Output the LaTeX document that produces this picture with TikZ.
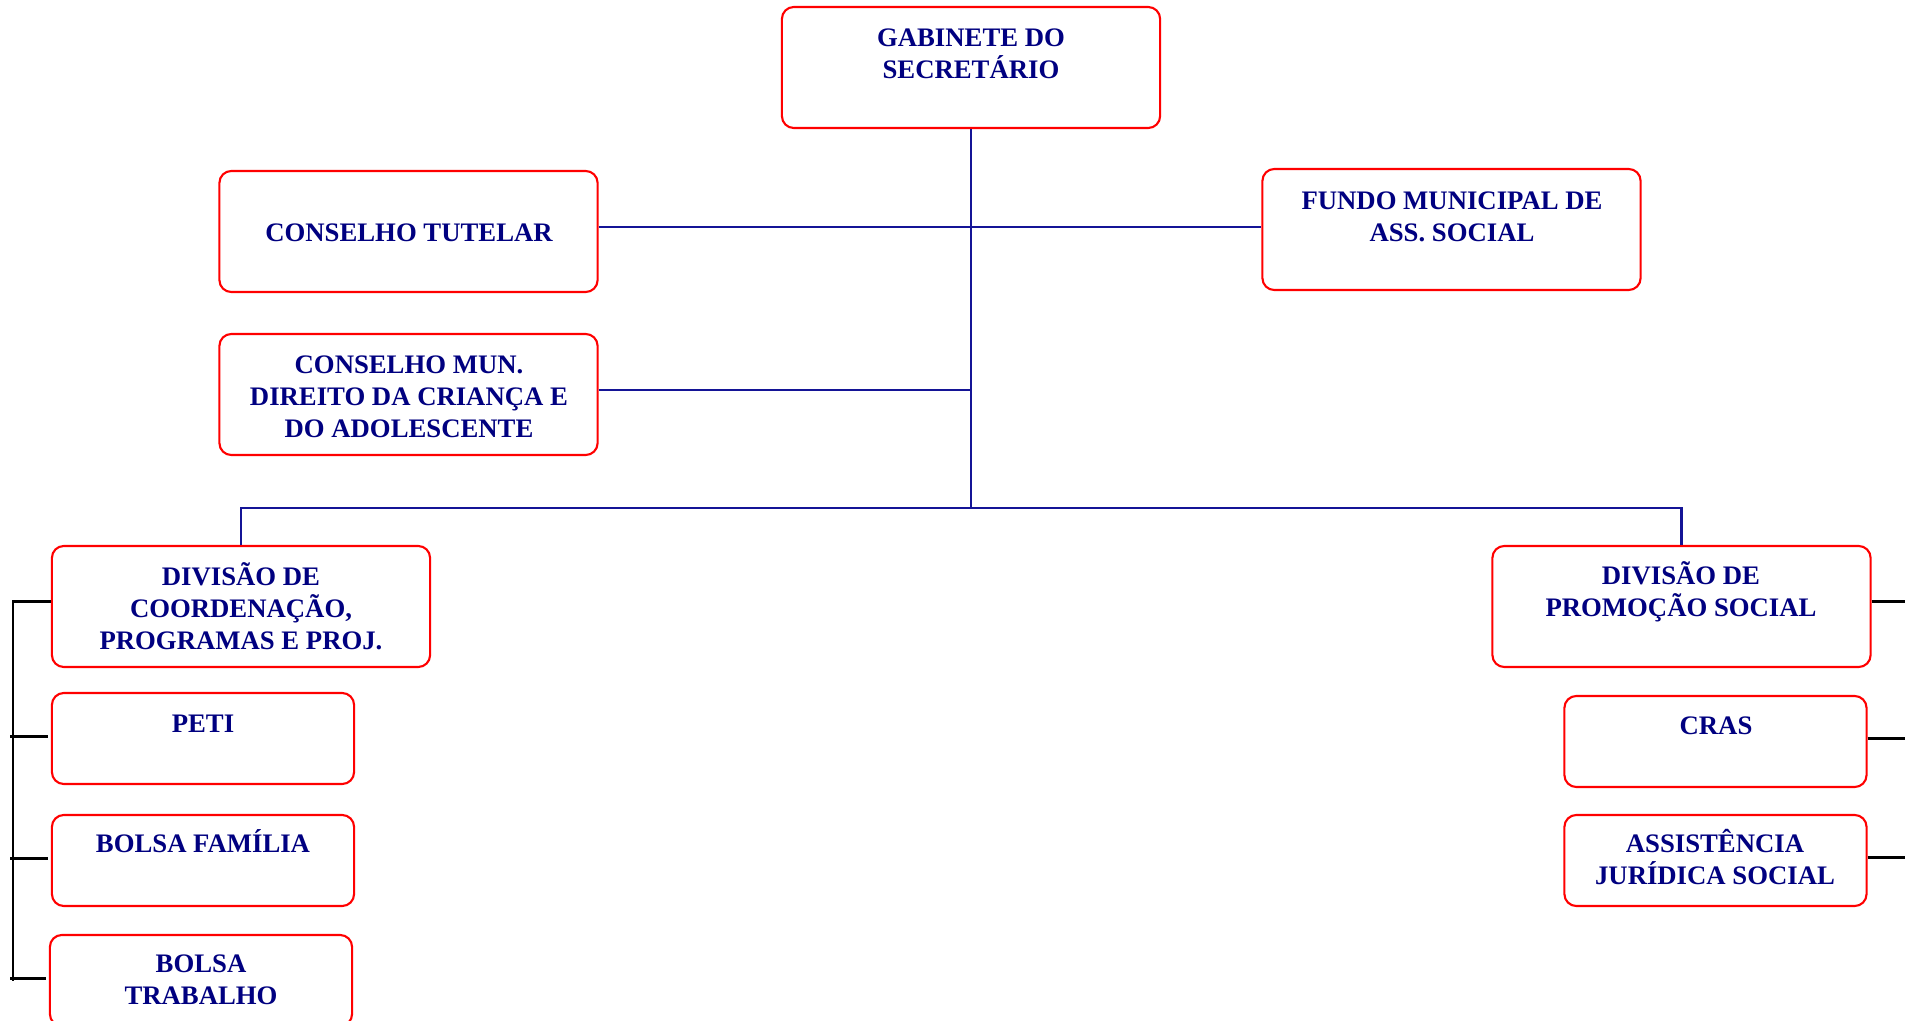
\documentclass[tikz,border=0pt]{standalone}
\usepackage{fontspec}
\setmainfont{Liberation Serif}
\usetikzlibrary{calc}
\definecolor{txtnavy}{RGB}{0,0,128}
\definecolor{linknavy}{RGB}{20,20,150}
\definecolor{boxred}{RGB}{255,0,0}
\newcommand\lstrut{\rule[-2.0pt]{0pt}{7.1pt}}
\begin{document}
\begin{tikzpicture}[x=0.01cm, y=-0.01cm,
  unit/.style={draw=boxred, line width=0.6pt, rounded corners=3.4pt,
    inner sep=0pt, fill=white},
  bigbox/.style={unit, minimum width=3.78cm, minimum height=1.21cm},
  smallbox/.style={unit, minimum width=3.02cm, minimum height=0.91cm},
  lbl/.style={text=txtnavy, align=center, inner sep=0pt,
    font=\bfseries\fontsize{7.6}{9.1}\selectfont,
    execute at begin node=\lstrut, execute at end node=\lstrut},
  link/.style={draw=linknavy, line width=0.6pt},
  blk/.style={draw=black, line width=0.6pt}]
\fill[white] (0,0) rectangle (1905,1021);
\useasboundingbox (0,0) rectangle (1905,1021);
\clip (0,0) rectangle (1905,1021);

% frames
\node[bigbox]   (gab)    at (971,67.5)    {};
\node[bigbox]   (tut)    at (408.5,231.5) {};
\node[bigbox]   (mun)    at (408.5,394.5) {};
\node[bigbox]   (fundo)  at (1451.5,229.5){};
\node[bigbox]   (divl)   at (241,606.5)   {};
\node[bigbox]   (divr)   at (1681.5,606.5){};
\node[smallbox] (peti)   at (203,738.5)   {};
\node[smallbox] (fam)    at (203,860.5)   {};
\node[smallbox] (trab)   at (201,980.5)   {};
\node[smallbox] (cras)   at (1715.5,741.5){};
\node[smallbox] (assist) at (1715.5,860.5){};

% captions
\node[lbl] (gabT)    at (971,57.5)  {GABINETE DO\\SECRETÁRIO};
\node[lbl] (tutT)    at (409,236.5) {CONSELHO TUTELAR};
\node[lbl] (munT)    at (409,400)   {CONSELHO MUN.\\DIREITO DA CRIANÇA E\\DO ADOLESCENTE};
\node[lbl] (fundoT)  at (1452,220.5){FUNDO MUNICIPAL DE\\ASS. SOCIAL};
\node[lbl] (divlT)   at (241,610)   {DIVISÃO DE\\COORDENAÇÃO,\\PROGRAMAS E PROJ.};
\node[lbl] (divrT)   at (1681,593)  {DIVISÃO DE\\PROMOÇÃO SOCIAL};
\node[lbl] (petiT)   at (203,727)   {PETI};
\node[lbl] (famT)    at (203,845)   {BOLSA FAMÍLIA};
\node[lbl] (trabT)   at (201,983)   {BOLSA\\TRABALHO};
\node[lbl] (crasT)   at (1716,729)  {CRAS};
\node[lbl] (assistT) at (1715,860)  {ASSISTÊNCIA\\JURÍDICA SOCIAL};

% trunk junctions
\coordinate (t1) at (970,227);
\coordinate (t2) at (970,390);
\coordinate (j)  at (970,508);
\coordinate (bx) at (13,0);
\coordinate (rx) at (1905,0);

% navy hierarchy lines
\draw[link] (gab.south) -- (gab.south |- j);
\draw[link] (tut.east |- t1) -- (fundo.west |- t1);
\draw[link] (mun.east |- t2) -- (t2);
\draw[link] (divl.north) |- (j) -| (divr.north);

% black side brackets
\draw[blk] ($(divl.west)+(0,-5)$) -- ($(divl.west -| bx)+(0,-5)$) -- (trab.west -| bx);
\foreach \b in {peti,fam,trab}
  \draw[blk] ($(\b.west -| bx)+(-3,-2)$) -- ($(\b.west)+(-3,-2)$);
\draw[blk] ($(divr.east)+(0,-5)$) -- ($(divr.east -| rx)+(0,-5)$);
\foreach \b in {cras,assist}
  \draw[blk] ($(\b.east)+(0,-3)$) -- ($(\b.east -| rx)+(0,-3)$);
\end{tikzpicture}
\end{document}
